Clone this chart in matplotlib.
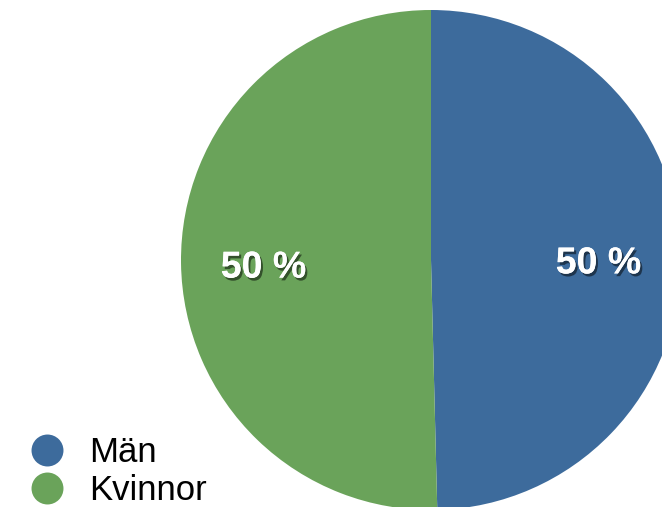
import matplotlib.pyplot as plt
import matplotlib.patheffects as pe
from matplotlib.lines import Line2D

labels = ['Män', 'Kvinnor']
values = [49.6, 50.4]
colors = ['#3d6b9c', '#6aa35a']

plt.rcParams['font.family'] = ['Liberation Sans', 'DejaVu Sans']

fig = plt.figure(figsize=(6.62, 5.07), dpi=100)
ax = fig.add_axes([0, 0, 1, 1])

wedges, texts, autotexts = ax.pie(values, colors=colors, startangle=90, counterclock=False,
                                  autopct=lambda p: f'{p:.0f} %', pctdistance=0.67,
                                  wedgeprops=dict(linewidth=0))
shadow = [pe.withSimplePatchShadow(offset=(1.5, -2), shadow_rgbFace='black', alpha=0.5), pe.Normal()]
for t in autotexts:
    t.set_color('white')
    t.set_fontsize(27)
    t.set_fontweight('bold')
    t.set_path_effects(shadow)
    x, y = t.get_position()
    t.set_position((x, y - 0.022))

# pie centre at pixel (431, 260), radius 250 px
ax.set_xlim(-431 / 250, (662 - 431) / 250)
ax.set_ylim((260 - 507) / 250, 260 / 250)
ax.set_aspect('auto')
ax.axis('off')

handles = [Line2D([], [], marker='o', linestyle='none', markersize=23,
                  markerfacecolor=c, markeredgecolor='none') for c in colors]
fig.legend(handles, labels, loc='lower left', bbox_to_anchor=(0.04, 0.0),
           frameon=False, fontsize=25, handlelength=1.2, handletextpad=0.6,
           labelspacing=0.15, borderpad=0, borderaxespad=0)

fig.savefig('out.png', dpi=100)
